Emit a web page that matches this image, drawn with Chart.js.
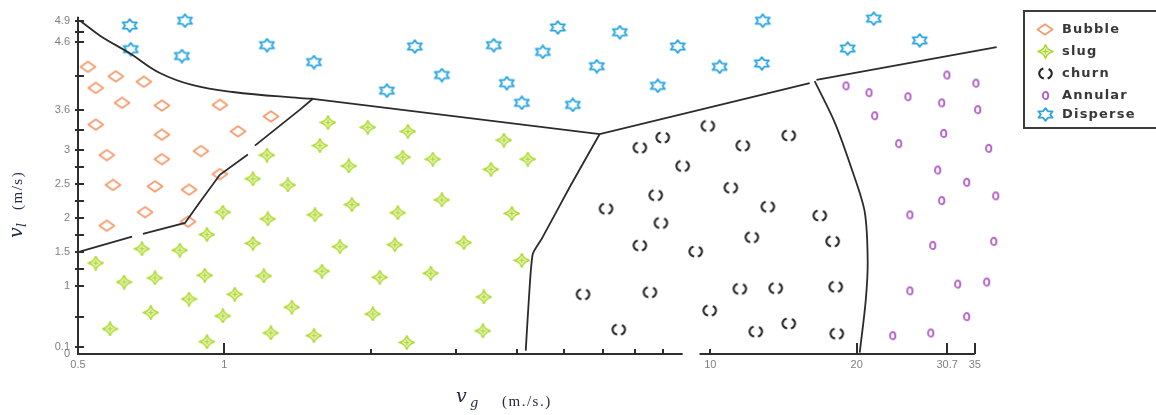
<!DOCTYPE html>
<html>
<head>
<meta charset="utf-8">
<script src="https://cdn.jsdelivr.net/npm/chart.js@4.4.1/dist/chart.umd.min.js"></script>
<style>
  html, body { margin: 0; padding: 0; background: #fff; }
  #wrap { width: 1156px; height: 415px; position: relative; }
</style>
</head>
<body>
<div id="wrap"><canvas id="c" width="1156" height="415"></canvas></div>
<script>
// ---- Flow regimes ----
const regimes = ['Bubble', 'slug', 'churn', 'Annular', 'Disperse'];

// Observed points: gas superficial velocity vg (m/s) and liquid velocity vl (m/s)
const bubbleVg = [0.524, 0.598, 0.683, 0.544, 0.616, 0.744, 0.979, 1.247, 0.544, 1.067, 0.744, 0.895, 0.573, 0.744, 0.979, 0.590, 0.720, 0.846, 0.687, 0.573, 0.842];
const bubbleVl = [4.23, 4.09, 4.01, 3.92, 3.70, 3.66, 3.67, 3.50, 3.38, 3.28, 3.23, 2.99, 2.93, 2.87, 2.65, 2.49, 2.47, 2.42, 2.09, 1.89, 1.95];

const slugVg = [1.224, 1.145, 1.351, 0.993, 1.229, 0.921, 0.677, 0.810, 1.145, 0.544, 0.622, 0.720, 0.912, 1.051, 0.846, 1.206, 1.377, 0.706, 0.993, 0.582, 0.921, 1.247, 1.529, 2.021, 2.374, 3.404, 1.634, 1.974, 2.386, 1.573, 3.760, 2.330, 2.685, 4.212, 1.804, 3.537, 2.803, 1.830, 1.536, 2.275, 3.904, 1.729, 2.243, 3.110, 4.094, 1.588, 2.089, 2.660, 3.420];
const slugVl = [2.93, 2.58, 2.49, 2.09, 1.99, 1.76, 1.55, 1.53, 1.63, 1.34, 1.06, 1.12, 1.16, 0.88, 0.81, 1.15, 0.69, 0.61, 0.56, 0.37, 0.18, 0.31, 0.27, 0.59, 0.17, 0.34, 3.41, 3.34, 3.28, 3.07, 3.15, 2.90, 2.87, 2.87, 2.77, 2.72, 2.27, 2.20, 2.05, 2.08, 2.07, 1.58, 1.61, 1.64, 1.38, 1.22, 1.13, 1.19, 0.84];

const churnVg = [7.16, 7.98, 9.88, 11.66, 14.50, 8.77, 7.72, 11.02, 6.10, 7.91, 13.13, 16.79, 7.16, 9.33, 12.17, 17.85, 5.47, 7.51, 11.50, 13.63, 18.11, 6.48, 9.97, 12.40, 14.50, 18.20];
const churnVl = [3.04, 3.19, 3.36, 3.07, 3.22, 2.77, 2.34, 2.45, 2.14, 1.93, 2.17, 2.04, 1.60, 1.51, 1.72, 1.66, 0.88, 0.91, 0.96, 0.97, 0.99, 0.36, 0.64, 0.33, 0.45, 0.30];

const annularVg = [19.01, 21.20, 25.49, 30.66, 35.18, 21.78, 29.91, 35.47, 30.20, 24.40, 37.37, 29.35, 33.67, 38.64, 29.91, 25.73, 38.28, 28.67, 25.73, 32.27, 37.02, 23.72, 28.40, 33.67];
const annularVl = [3.95, 3.85, 3.79, 4.11, 3.99, 3.51, 3.70, 3.60, 3.25, 3.10, 3.03, 2.71, 2.53, 2.33, 2.26, 2.05, 1.66, 1.60, 0.93, 1.03, 1.06, 0.27, 0.31, 0.55];

const disperseVg = [0.639, 0.830, 0.642, 0.818, 1.224, 1.529, 2.160, 2.466, 2.803, 3.584, 3.813, 4.094, 4.522, 4.855, 5.212, 5.840, 6.512, 7.797, 8.570, 10.45, 12.82, 12.76, 19.17, 21.69, 26.96];
const disperseVl = [4.84, 4.91, 4.49, 4.39, 4.55, 4.30, 3.88, 4.53, 4.11, 4.55, 3.99, 3.70, 4.45, 4.81, 3.67, 4.24, 4.74, 3.95, 4.53, 4.23, 4.91, 4.28, 4.50, 4.94, 4.62];

// ---- Regime transition boundaries (vg, vl) ----
const dispCurveVg = [0.505, 0.555, 0.639, 0.737, 0.862, 1.041, 1.431, 1.521];
const dispCurveVl = [4.91, 4.69, 4.43, 4.14, 3.96, 3.86, 3.77, 3.76];
const dispLineVg = [1.521, 5.92, 16.01];
const dispLineVl = [3.76, 3.24, 3.99];
const dispRightVg = [16.53, 38.81];
const dispRightVl = [4.04, 4.52];
const bubbleSlugAVg = [0.5, 0.646];
const bubbleSlugAVl = [1.50, 1.73];
const bubbleSlugBVg = [0.680, 0.830, 0.891, 0.979, 1.118];
const bubbleSlugBVl = [1.77, 1.93, 2.24, 2.64, 2.94];
const bubbleSlugCVg = [1.156, 1.431, 1.521];
const bubbleSlugCVl = [3.07, 3.60, 3.76];
const slugChurnVg = [5.92, 5.137, 4.50, 4.31, 4.23, 4.17];
const slugChurnVl = [3.24, 2.46, 1.70, 1.47, 0.78, 0.05];
const churnAnnularVg = [16.39, 18.03, 19.63, 20.78, 21.07, 20.87, 20.29];
const churnAnnularVl = [4.02, 3.41, 2.68, 2.09, 1.36, 0.78, 0.02];

// ---- Axis ticks ----
const xTickValues = [0.5, 1, 2, 3, 4, 5, 6, 7, 8, 10, 20, 30.7, 35];
const xTickLabels = ['0.5', '1', '', '', '', '', '', '', '', '10', '20', '30.7', '35'];
const xMajorTicks = [1, 20, 30.7, 35];
const xAxisSegments = [[0.5, 8.77], [9.5, 35]];
const yTickValues = [0, 0.1, 0.55, 1, 1.25, 1.5, 1.75, 2, 2.25, 2.5, 2.75, 3, 3.3, 3.6, 4.1, 4.6, 4.75, 4.9];
const yTickLabels = ['0', '0.1', '', '1', '', '1.5', '', '2', '', '2.5', '', '3', '', '3.6', '', '4.6', '', '4.9'];

// ---- Marker glyphs ----
function glyph(w, h, paint) {
  const c = document.createElement('canvas');
  c.width = w; c.height = h;
  const g = c.getContext('2d');
  g.lineJoin = 'round';
  paint(g, w, h);
  return c;
}

const colors = {
  Bubble: '#f59b6c',
  slug: '#acd92a',
  churn: '#222222',
  Annular: '#b25cc8',
  Disperse: '#2aa5e2'
};

const icons = {
  Bubble: glyph(18, 13, g => {
    g.strokeStyle = colors.Bubble; g.lineWidth = 1.7;
    g.beginPath();
    g.moveTo(9, 1.3); g.lineTo(16.5, 6.5); g.lineTo(9, 11.7); g.lineTo(1.5, 6.5);
    g.closePath(); g.stroke();
  }),
  slug: glyph(17, 15, g => {
    g.strokeStyle = colors.slug; g.lineWidth = 1.6;
    const cx = 8.5, cy = 7.5;
    g.beginPath();
    g.moveTo(cx, 0.8);
    g.quadraticCurveTo(cx + 1.6, cy - 1.6, 16, cy);
    g.quadraticCurveTo(cx + 1.6, cy + 1.6, cx, 14.2);
    g.quadraticCurveTo(cx - 1.6, cy + 1.6, 1, cy);
    g.quadraticCurveTo(cx - 1.6, cy - 1.6, cx, 0.8);
    g.closePath(); g.stroke();
    g.beginPath();
    g.moveTo(cx, cy - 3); g.lineTo(cx, cy + 3);
    g.moveTo(cx - 3, cy); g.lineTo(cx + 3, cy);
    g.stroke();
  }),
  churn: glyph(17, 15, g => {
    g.strokeStyle = colors.churn; g.lineWidth = 2.1;
    const d = Math.PI / 180;
    g.beginPath(); g.ellipse(8.5, 7.5, 6.3, 5.2, 0, 105 * d, 250 * d); g.stroke();
    g.beginPath(); g.ellipse(8.5, 7.5, 6.3, 5.2, 0, -60 * d, 70 * d); g.stroke();
  }),
  Annular: glyph(9, 11, g => {
    g.strokeStyle = colors.Annular; g.lineWidth = 1.8;
    g.beginPath(); g.ellipse(4.5, 5.5, 2.7, 3.6, 0, 0, Math.PI * 2); g.stroke();
  }),
  Disperse: glyph(19, 15, g => {
    g.strokeStyle = colors.Disperse; g.lineWidth = 1.8;
    g.beginPath();
    for (let i = 0; i < 12; i++) {
      const a = (-90 + i * 30) * Math.PI / 180;
      const r = i % 2 === 0 ? 1 : 0.577;
      const px = 9.5 + Math.cos(a) * r * 8.2;
      const py = 7.5 + Math.sin(a) * r * 6.4;
      if (i === 0) g.moveTo(px, py); else g.lineTo(px, py);
    }
    g.closePath(); g.stroke();
  })
};

function pts(xs, ys) { return xs.map((v, i) => ({ x: v, y: ys[i] })); }

function regimeSet(name, xs, ys) {
  return {
    label: name,
    data: pts(xs, ys),
    pointStyle: icons[name],
    pointRadius: 7,
    borderColor: colors[name],
    backgroundColor: colors[name],
    showLine: false,
    clip: false
  };
}

function boundarySet(xs, ys, tension) {
  return {
    label: '',
    data: pts(xs, ys),
    showLine: true,
    pointRadius: 0,
    borderColor: '#2b2b2b',
    borderWidth: 1.8,
    tension: tension || 0,
    clip: false
  };
}

const ink = '#2e2e2e';

// Axes, tick marks, axis titles and legend
const framePlugin = {
  id: 'frame',
  afterDraw(chart) {
    const { ctx, scales: { x, y } } = chart;
    const x0 = x.getPixelForValue(xTickValues[0]);
    const yb = y.getPixelForValue(0);
    ctx.save();
    ctx.strokeStyle = ink;
    ctx.lineWidth = 2;

    ctx.beginPath();
    ctx.moveTo(x0, yb + 1);
    ctx.lineTo(x0, y.getPixelForValue(4.97));
    ctx.stroke();

    xAxisSegments.forEach(([a, b]) => {
      ctx.beginPath();
      ctx.moveTo(x.getPixelForValue(a), yb);
      ctx.lineTo(x.getPixelForValue(b), yb);
      ctx.stroke();
    });

    xTickValues.forEach((v, i) => {
      if (i === 0) return;
      const len = xMajorTicks.includes(v) ? 11 : 5;
      const px = Math.round(x.getPixelForValue(v));
      ctx.beginPath();
      ctx.moveTo(px, yb);
      ctx.lineTo(px, yb - len);
      ctx.stroke();
    });

    yTickValues.forEach((v, i) => {
      if (i === 0) return;
      const py = Math.round(y.getPixelForValue(v));
      ctx.beginPath();
      ctx.moveTo(x0 - 3, py);
      ctx.lineTo(x0 + 6, py);
      ctx.stroke();
    });

    // x axis title: v_g (m./s.)
    ctx.fillStyle = '#232a48';
    ctx.textBaseline = 'alphabetic';
    ctx.textAlign = 'left';
    ctx.font = 'italic 19px "DejaVu Serif"';
    ctx.fillText('v', 456, 402);
    ctx.font = 'italic 13px "DejaVu Serif"';
    ctx.fillText('g', 470, 407);
    ctx.font = '15px "Liberation Serif"';
    ctx.letterSpacing = '1.5px';
    ctx.fillText('(m./s.)', 502, 406);
    ctx.letterSpacing = '0px';

    // y axis title: v_l (m/s)
    ctx.save();
    ctx.translate(22, 238);
    ctx.rotate(-Math.PI / 2);
    ctx.font = 'italic 19px "DejaVu Serif"';
    ctx.fillText('v', 0, 0);
    ctx.font = 'italic 13px "DejaVu Serif"';
    ctx.fillText('l', 11, 4);
    ctx.font = '15px "Liberation Serif"';
    ctx.letterSpacing = '1.5px';
    ctx.fillText('(m/s)', 28, 0);
    ctx.letterSpacing = '0px';
    ctx.restore();

    // legend
    ctx.strokeStyle = '#3c3c3c';
    ctx.lineWidth = 2;
    ctx.strokeRect(1024, 11, 150, 117);
    ctx.font = 'bold 13px "DejaVu Sans"';
    ctx.letterSpacing = '1.2px';
    ctx.fillStyle = '#383838';
    ctx.textBaseline = 'middle';
    const rows = [29, 51, 73, 95, 114];
    regimes.forEach((name, i) => {
      const ic = icons[name];
      ctx.drawImage(ic, Math.round(1045 - ic.width / 2), Math.round(rows[i] - ic.height / 2));
      ctx.fillText(name, 1062, rows[i] + 1);
    });
    ctx.restore();
  }
};

new Chart(document.getElementById('c'), {
  type: 'scatter',
  data: {
    datasets: [
      boundarySet(dispCurveVg, dispCurveVl, 0.4),
      boundarySet(dispLineVg, dispLineVl),
      boundarySet(dispRightVg, dispRightVl),
      boundarySet(bubbleSlugAVg, bubbleSlugAVl),
      boundarySet(bubbleSlugBVg, bubbleSlugBVl),
      boundarySet(bubbleSlugCVg, bubbleSlugCVl),
      boundarySet(slugChurnVg, slugChurnVl, 0.2),
      boundarySet(churnAnnularVg, churnAnnularVl, 0.3),
      regimeSet('Bubble', bubbleVg, bubbleVl),
      regimeSet('slug', slugVg, slugVl),
      regimeSet('churn', churnVg, churnVl),
      regimeSet('Annular', annularVg, annularVl),
      regimeSet('Disperse', disperseVg, disperseVl)
    ]
  },
  options: {
    responsive: false,
    animation: false,
    layout: { padding: { left: 0, right: 153, top: 11, bottom: 0 } },
    plugins: { legend: { display: false }, tooltip: { enabled: false } },
    scales: {
      x: {
        type: 'logarithmic',
        min: 0.5,
        max: 40,
        grid: { display: false, drawTicks: false },
        border: { display: false },
        afterBuildTicks: s => { s.ticks = xTickValues.map(v => ({ value: v })); },
        afterFit: s => { s.height = 61; },
        ticks: {
          autoSkip: false,
          maxRotation: 0,
          padding: 4,
          color: '#808080',
          font: { family: '"Liberation Sans"', size: 11 },
          callback: (v, i) => xTickLabels[i]
        }
      },
      y: {
        type: 'linear',
        min: 0,
        max: 5,
        grid: { display: false, drawTicks: false },
        border: { display: false },
        afterBuildTicks: s => { s.ticks = yTickValues.map(v => ({ value: v })); },
        afterFit: s => { s.width = 78; },
        ticks: {
          autoSkip: false,
          padding: 8,
          color: '#808080',
          font: { family: '"Liberation Sans"', size: 11 },
          callback: (v, i) => yTickLabels[i]
        }
      }
    }
  },
  plugins: [framePlugin]
});
</script>
</body>
</html>
